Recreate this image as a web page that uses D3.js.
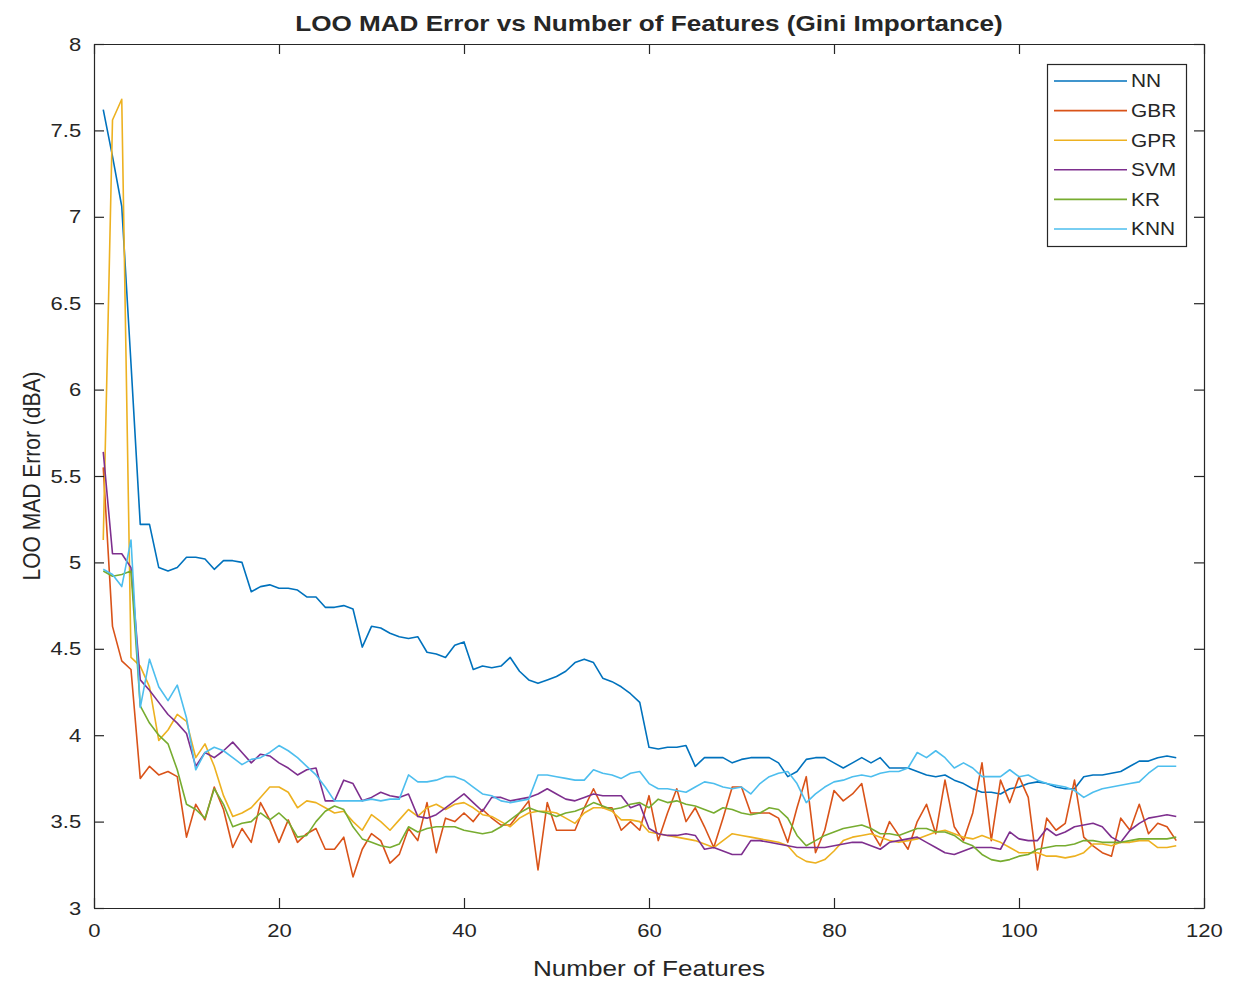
<!DOCTYPE html>
<html lang="en">
<head>
    <meta charset="UTF-8">
    <title>LOO MAD Error vs Number of Features</title>
    <script src="https://d3js.org/d3.v7.min.js"></script>
    <style>
        body { margin: 0; background: #fff; }
        text { font-family: "Liberation Sans", Arial, Helvetica, sans-serif; fill: #262626; }
    </style>
</head>
<body>
<script>
    // series names / colours (MATLAB default order)
    var seriesNames = ["NN", "GBR", "GPR", "SVM", "KR", "KNN"];
    var seriesColors = ["#0072BD", "#D95319", "#EDB120", "#7E2F8E", "#77AC30", "#4DBEEE"];

    var xTicks = [0, 20, 40, 60, 80, 100, 120];
    var yTicks = [3, 3.5, 4, 4.5, 5, 5.5, 6, 6.5, 7, 7.5, 8];

    // error per number of features, x = 1..117
    var nn = [7.62,7.35,7.06,6.15,5.22,5.22,4.97,4.95,4.97,5.03,5.03,5.02,4.96,5.01,5.01,5.00,4.83,4.86,4.87,4.85,
        4.85,4.84,4.80,4.80,4.74,4.74,4.75,4.73,4.51,4.63,4.62,4.59,4.57,4.56,4.57,4.48,4.47,4.45,4.52,4.54,
        4.38,4.40,4.39,4.40,4.45,4.37,4.32,4.30,4.32,4.34,4.37,4.42,4.44,4.42,4.33,4.31,4.28,4.24,4.19,3.93,
        3.92,3.93,3.93,3.94,3.82,3.87,3.87,3.87,3.84,3.86,3.87,3.87,3.87,3.84,3.76,3.79,3.86,3.87,3.87,3.84,
        3.81,3.84,3.87,3.84,3.87,3.81,3.81,3.81,3.79,3.77,3.76,3.77,3.74,3.72,3.69,3.67,3.67,3.66,3.69,3.70,
        3.72,3.73,3.72,3.70,3.69,3.69,3.76,3.77,3.77,3.78,3.79,3.82,3.85,3.85,3.87,3.88,3.87];
    var gbr = [5.55,4.63,4.43,4.38,3.75,3.82,3.77,3.79,3.76,3.41,3.60,3.51,3.70,3.57,3.35,3.46,3.38,3.61,3.51,3.38,
        3.51,3.38,3.43,3.46,3.34,3.34,3.41,3.18,3.34,3.43,3.39,3.26,3.31,3.46,3.39,3.61,3.32,3.52,3.50,3.55,
        3.50,3.57,3.52,3.48,3.48,3.55,3.62,3.22,3.61,3.45,3.45,3.45,3.58,3.69,3.58,3.58,3.45,3.50,3.45,3.65,
        3.39,3.55,3.69,3.50,3.58,3.47,3.35,3.52,3.70,3.70,3.55,3.55,3.55,3.52,3.38,3.58,3.76,3.32,3.45,3.68,
        3.62,3.66,3.72,3.45,3.36,3.50,3.42,3.34,3.50,3.60,3.43,3.74,3.47,3.39,3.55,3.84,3.39,3.74,3.61,3.76,
        3.64,3.22,3.52,3.45,3.49,3.74,3.41,3.36,3.32,3.30,3.52,3.45,3.60,3.43,3.49,3.47,3.39];
    var gpr = [5.13,7.56,7.68,4.45,4.40,4.28,3.97,4.03,4.12,4.08,3.87,3.95,3.82,3.65,3.53,3.55,3.58,3.64,3.70,3.70,
        3.67,3.58,3.62,3.61,3.58,3.55,3.56,3.50,3.45,3.54,3.50,3.45,3.51,3.57,3.53,3.58,3.60,3.57,3.60,3.61,
        3.58,3.54,3.53,3.50,3.47,3.52,3.55,3.56,3.56,3.55,3.52,3.49,3.55,3.58,3.58,3.56,3.51,3.51,3.50,3.44,
        3.43,3.42,3.41,3.40,3.39,3.37,3.35,3.39,3.43,3.42,3.41,3.40,3.39,3.38,3.36,3.30,3.27,3.26,3.28,3.33,
        3.39,3.41,3.42,3.43,3.41,3.39,3.38,3.39,3.40,3.42,3.44,3.45,3.43,3.41,3.40,3.42,3.40,3.38,3.35,3.32,
        3.32,3.32,3.30,3.30,3.29,3.30,3.32,3.37,3.37,3.36,3.38,3.38,3.39,3.39,3.35,3.35,3.36];
    var svm = [5.64,5.05,5.05,4.97,4.32,4.26,4.19,4.12,4.07,4.01,3.82,3.90,3.87,3.91,3.96,3.90,3.84,3.89,3.88,3.84,
        3.81,3.77,3.80,3.81,3.62,3.62,3.74,3.72,3.62,3.64,3.67,3.65,3.64,3.66,3.53,3.52,3.54,3.58,3.62,3.66,
        3.61,3.56,3.64,3.64,3.62,3.63,3.64,3.66,3.69,3.66,3.63,3.62,3.64,3.66,3.65,3.65,3.65,3.58,3.60,3.46,
        3.43,3.42,3.42,3.43,3.42,3.34,3.35,3.33,3.31,3.31,3.39,3.39,3.38,3.37,3.36,3.35,3.35,3.35,3.35,3.36,
        3.37,3.38,3.38,3.36,3.34,3.38,3.39,3.40,3.41,3.38,3.35,3.32,3.31,3.33,3.35,3.35,3.35,3.34,3.44,3.40,
        3.39,3.39,3.46,3.42,3.44,3.47,3.48,3.49,3.47,3.41,3.38,3.45,3.49,3.52,3.53,3.54,3.53];
    var kr = [4.95,4.92,4.93,4.95,4.17,4.07,4.00,3.95,3.80,3.60,3.57,3.52,3.69,3.60,3.47,3.49,3.50,3.55,3.51,3.55,
        3.50,3.41,3.42,3.50,3.56,3.59,3.57,3.47,3.40,3.38,3.36,3.35,3.37,3.47,3.44,3.46,3.47,3.47,3.47,3.45,
        3.44,3.43,3.44,3.47,3.51,3.55,3.58,3.56,3.55,3.53,3.55,3.56,3.58,3.61,3.59,3.57,3.58,3.60,3.61,3.58,
        3.63,3.61,3.62,3.60,3.59,3.57,3.55,3.58,3.57,3.55,3.54,3.55,3.58,3.57,3.52,3.42,3.36,3.39,3.42,3.44,
        3.46,3.47,3.48,3.46,3.43,3.43,3.42,3.44,3.46,3.46,3.44,3.44,3.42,3.38,3.36,3.31,3.28,3.27,3.28,3.30,
        3.31,3.34,3.35,3.36,3.36,3.37,3.39,3.39,3.38,3.38,3.38,3.39,3.40,3.40,3.40,3.40,3.41];
    var knn = [4.96,4.93,4.86,5.13,4.16,4.44,4.28,4.20,4.29,4.10,3.80,3.90,3.93,3.91,3.87,3.83,3.86,3.87,3.90,3.94,
        3.91,3.87,3.82,3.77,3.70,3.62,3.62,3.62,3.62,3.63,3.62,3.63,3.63,3.77,3.73,3.73,3.74,3.76,3.76,3.74,
        3.70,3.66,3.65,3.62,3.61,3.62,3.63,3.77,3.77,3.76,3.75,3.74,3.74,3.80,3.78,3.77,3.75,3.78,3.79,3.72,
        3.69,3.69,3.68,3.67,3.70,3.73,3.72,3.70,3.69,3.70,3.66,3.72,3.76,3.78,3.79,3.72,3.61,3.66,3.70,3.73,
        3.74,3.76,3.77,3.76,3.78,3.79,3.79,3.81,3.90,3.87,3.91,3.87,3.81,3.84,3.81,3.76,3.76,3.76,3.80,3.76,
        3.77,3.74,3.72,3.71,3.70,3.68,3.64,3.67,3.69,3.70,3.71,3.72,3.73,3.78,3.82,3.82,3.82];

    var seriesValues = [nn, gbr, gpr, svm, kr, knn];

    var width = 1236;
    var height = 983;
    var plotLeft = 94, plotRight = 1204, plotTop = 44, plotBottom = 908;
    var stretch = 1.16; // text in the picture is a little wide

    var svg = d3.select("body").append("svg")
        .attr("width", width)
        .attr("height", height);

    var xScale = d3.scaleLinear().domain([0, 120]).range([plotLeft, plotRight]);
    var yScale = d3.scaleLinear().domain([3, 8]).range([plotBottom, plotTop]);

    var line = d3.line()
        .x(function(d, i) { return xScale(i + 1); })
        .y(function(d) { return yScale(d); });

    // lines first, axes box over them
    svg.append("g")
        .selectAll("path")
        .data(seriesValues)
        .enter()
        .append("path")
        .attr("d", line)
        .attr("fill", "none")
        .attr("stroke", function(d, i) { return seriesColors[i]; })
        .attr("stroke-width", 1.6)
        .attr("stroke-linejoin", "round");

    function styleAxis(g) {
        g.selectAll("path").attr("stroke", "#262626").attr("stroke-width", 1.2);
        g.selectAll("line").attr("stroke", "#262626").attr("stroke-width", 1.2);
        g.selectAll("text")
            .attr("font-size", "19px")
            .attr("font-family", "Liberation Sans, Arial, sans-serif")
            .attr("fill", "#262626");
    }

    svg.append("g")
        .attr("transform", "translate(0," + plotBottom + ")")
        .call(d3.axisBottom(xScale).tickValues(xTicks).tickFormat(d3.format("d"))
            .tickSizeInner(-10).tickSizeOuter(0).tickPadding(16))
        .call(styleAxis)
        .selectAll("text").attr("transform", "scale(" + stretch + ",1)");

    svg.append("g")
        .attr("transform", "translate(0," + plotTop + ")")
        .call(d3.axisTop(xScale).tickValues(xTicks).tickFormat("")
            .tickSizeInner(-10).tickSizeOuter(0))
        .call(styleAxis);

    svg.append("g")
        .attr("transform", "translate(" + plotLeft + ",0)")
        .call(d3.axisLeft(yScale).tickValues(yTicks).tickFormat(d3.format("~g"))
            .tickSizeInner(-10).tickSizeOuter(0).tickPadding(11))
        .call(styleAxis)
        .selectAll("text").attr("transform", "scale(" + stretch + ",1)");

    svg.append("g")
        .attr("transform", "translate(" + plotRight + ",0)")
        .call(d3.axisRight(yScale).tickValues(yTicks).tickFormat("")
            .tickSizeInner(-10).tickSizeOuter(0))
        .call(styleAxis);

    // title and axis labels
    svg.append("text")
        .attr("transform", "translate(" + ((plotLeft + plotRight) / 2) + ",31) scale(" + stretch + ",1)")
        .attr("text-anchor", "middle")
        .attr("font-size", "22.5px")
        .attr("font-weight", "bold")
        .attr("fill", "#000")
        .text("LOO MAD Error vs Number of Features (Gini Importance)");

    svg.append("text")
        .attr("transform", "translate(" + ((plotLeft + plotRight) / 2) + ",976) scale(" + stretch + ",1)")
        .attr("text-anchor", "middle")
        .attr("font-size", "22.5px")
        .text("Number of Features");

    svg.append("text")
        .attr("transform", "translate(40," + ((plotTop + plotBottom) / 2) + ") rotate(-90) scale(1," + stretch + ")")
        .attr("text-anchor", "middle")
        .attr("font-size", "21px")
        .text("LOO MAD Error (dBA)");

    // legend
    var legend = svg.append("g");
    legend.append("rect")
        .attr("x", 1047.5).attr("y", 64.5)
        .attr("width", 139).attr("height", 182)
        .attr("fill", "#fff")
        .attr("stroke", "#262626")
        .attr("stroke-width", 1.2);

    var item = legend.selectAll(".item")
        .data(seriesNames)
        .enter()
        .append("g")
        .attr("class", "item")
        .attr("transform", function(d, i) { return "translate(0," + (81 + i * 29.6) + ")"; });

    item.append("line")
        .attr("x1", 1054).attr("x2", 1127)
        .attr("stroke", function(d, i) { return seriesColors[i]; })
        .attr("stroke-width", 1.6);

    item.append("text")
        .attr("transform", "translate(1131,0) scale(" + stretch + ",1)")
        .attr("dy", "0.36em")
        .attr("font-size", "18px")
        .text(function(d) { return d; });
</script>
</body>
</html>
